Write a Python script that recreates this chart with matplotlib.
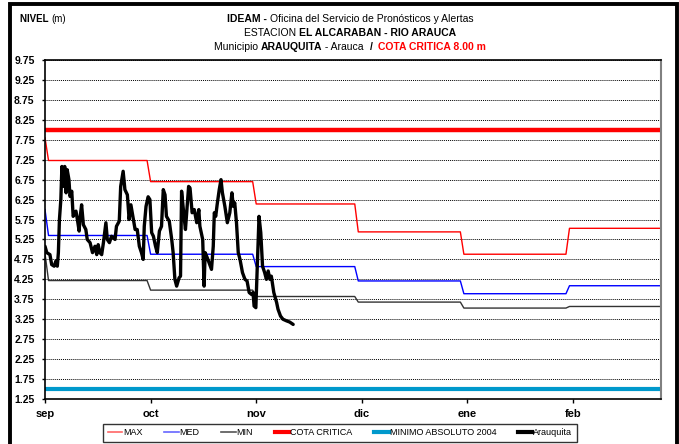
import numpy as np
import matplotlib
matplotlib.use('Agg')
import matplotlib.pyplot as plt
from matplotlib.patches import Rectangle
from matplotlib.lines import Line2D

plt.rcParams['font.family'] = ['Liberation Sans Narrow', 'Liberation Sans', 'DejaVu Sans']

# Ejes: dias desde el 1 de septiembre
meses = ['sep', 'oct', 'nov', 'dic', 'ene', 'feb']
dias_ticks = [0, 30, 60, 90, 120, 150]
inicio_mes = [1, 30, 60, 89, 119, 149]   # dia donde cambia el valor mensual
dia_final = 175

# Valores mensuales (primer valor = fin de agosto)
nivel_max = [7.80, 7.23, 6.70, 6.14, 5.44, 4.88, 5.53]
nivel_med = [6.00, 5.35, 4.88, 4.57, 4.21, 3.89, 4.09]
nivel_min = [4.90, 4.22, 3.98, 3.82, 3.68, 3.53, 3.57]
cota_critica = 8.0
minimo_absoluto = 1.5

# Serie observada Arauquita
dias_obs = [0, 0.5, 1.4, 1.9, 2.6, 3.1, 3.5, 3.8, 4.1, 4.5,
            4.8, 5.2, 5.6, 6.0, 6.3, 6.8, 7.1, 7.6, 8.0, 8.8,
            9.2, 9.7, 9.9, 10.4, 10.9, 11.6, 12.0, 12.8, 13.5, 14.2,
            14.7, 15.1, 15.6, 16.1, 16.6, 17.3, 17.7, 18.3, 18.9, 19.9,
            20.3, 21.1, 21.5, 22.2, 22.7, 23.4, 23.9, 24.4, 25.1, 25.6,
            26.2, 26.8, 27.4, 27.9, 28.2, 28.7, 29.3, 29.8, 30.3, 30.8,
            31.4, 31.9, 32.5, 33.1, 33.6, 34.1, 34.5, 35.3, 36.0, 36.4,
            36.9, 37.4, 38.1, 38.5, 38.8, 39.5, 39.9, 40.4, 40.8, 41.2,
            41.8, 42.4, 43.1, 43.7, 44.0, 44.8, 45.2, 45.5, 46.1, 46.6,
            47.3, 47.8, 48.1, 48.5, 48.9, 49.5, 50.0, 50.4, 51.1, 51.8,
            52.5, 53.1, 53.5, 53.9, 54.4, 54.9, 55.4, 56.1, 56.8, 57.4,
            58.0, 58.7, 59.1, 59.4, 59.9, 60.3, 60.8, 61.3, 61.8, 62.4,
            62.9, 63.4, 63.9, 64.3, 65.0, 65.8, 66.2, 66.9, 67.6, 68.6,
            69.5, 70.5]
nivel_obs = [5.08, 4.92, 4.87, 4.62, 4.58, 4.71, 4.58, 4.92, 5.75, 6.25,
             7.08, 6.58, 7.08, 6.42, 7.0, 6.75, 6.33, 6.46, 5.83, 5.96,
             5.75, 5.46, 5.75, 6.12, 5.62, 5.5, 5.25, 5.17, 4.92, 5.08,
             4.87, 5.12, 4.92, 4.87, 5.17, 5.67, 5.25, 5.17, 5.33, 5.25,
             5.58, 5.71, 6.58, 6.96, 6.5, 6.37, 5.75, 6.12, 5.75, 5.5,
             5.5, 5.08, 4.92, 4.75, 5.58, 6.08, 6.32, 6.25, 5.42, 5.33,
             5.08, 4.92, 5.46, 5.58, 6.5, 6.37, 5.83, 5.71, 5.25, 4.92,
             4.25, 4.08, 4.29, 4.33, 6.46, 5.83, 5.5, 6.08, 6.58, 6.54,
             5.92, 6.0, 5.67, 6.0, 5.58, 5.25, 4.08, 4.92, 4.79, 4.67,
             4.5, 5.08, 5.92, 5.83, 6.12, 6.5, 6.75, 6.42, 6.08, 5.67,
             5.92, 6.42, 6.08, 6.17, 5.67, 4.92, 4.75, 4.42, 4.25, 4.21,
             3.92, 3.87, 3.92, 3.58, 3.54, 4.58, 5.83, 5.42, 4.58, 4.42,
             4.25, 4.46, 4.25, 4.33, 3.92, 3.67, 3.5, 3.33, 3.25, 3.21,
             3.18, 3.12]


def escalones(valores):
    # linea mensual: cambia de valor entre el ultimo dia de un mes y el primero del siguiente
    xs, ys = [0], [valores[0]]
    limites = inicio_mes + [dia_final + 1]
    for i, v in enumerate(valores[1:]):
        xs += [limites[i], limites[i + 1] - 1]
        ys += [v, v]
    return xs, ys


W, H = 679, 444
fig = plt.figure(figsize=(W / 100, H / 100), dpi=100)
ax = fig.add_axes([45 / W, 45 / H, 616 / W, 339 / H])

x, y = escalones(nivel_max)
ax.plot(x, y, color='#ff0000', lw=1.0, label='MAX')
x, y = escalones(nivel_med)
ax.plot(x, y, color='#0000ff', lw=1.0, label='MED')
x, y = escalones(nivel_min)
ax.plot(x, y, color='#333333', lw=1.0, label='MIN')
ax.axhline(cota_critica, color='#ff0000', lw=3.2, label='COTA CRITICA')
ax.axhline(minimo_absoluto, color='#0099cc', lw=3.0, label='MINIMO ABSOLUTO 2004')
ax.plot(dias_obs, nivel_obs, color='black', lw=2.4, solid_joinstyle='round',
        solid_capstyle='round', label='Arauquita')

ax.set_xlim(0, dia_final)
ax.set_ylim(1.25, 9.75)
ax.set_yticks(np.arange(1.25, 9.76, 0.5))
ax.set_yticklabels(['%.2f' % v for v in np.arange(1.25, 9.76, 0.5)],
                   fontsize=7.5, fontweight='bold')
ax.set_xticks(dias_ticks)
ax.set_xticklabels(meses, fontsize=8, fontweight='bold')
ax.tick_params(axis='y', length=2.5, width=1, pad=5)
ax.tick_params(axis='x', length=3, width=1, pad=4)
ax.yaxis.grid(True, ls=(0, (1, 1)), color='black', lw=0.7)
ax.set_axisbelow(True)
for s in ['left', 'bottom', 'top']:
    ax.spines[s].set_linewidth(1.2)
ax.spines['right'].set_color('#808080')
ax.spines['right'].set_linewidth(1.5)

# marco exterior
fig.patches.append(Rectangle((10 / W, -0.05), 667 / W, 1.05 - 4 / H, transform=fig.transFigure,
                             fill=False, edgecolor='black', lw=2.8, clip_on=False))

# leyenda
handles = [Line2D([], [], color='#ff6666', lw=1.2),
           Line2D([], [], color='#6666ff', lw=1.2),
           Line2D([], [], color='#555555', lw=1.2),
           Line2D([], [], color='#ff0000', lw=3),
           Line2D([], [], color='#0099cc', lw=3),
           Line2D([], [], color='black', lw=3)]
labels = ['MAX', 'MED', 'MIN', 'COTA CRITICA', 'MINIMO ABSOLUTO 2004', 'Arauquita']
leg = fig.legend(handles, labels, loc='upper center', bbox_to_anchor=(340 / W, 1 - 419 / H),
                 ncol=6, fontsize=6.5, frameon=True, fancybox=False, edgecolor='black',
                 handlelength=1.6, handletextpad=0.1, columnspacing=2.4, borderpad=0.5)
leg.get_frame().set_linewidth(1.0)

# titulos con partes en negrita
lineas = [
    [('IDEAM - ', 'bold', 'black'), ('Oficina del Servicio de Pronósticos y Alertas', 'normal', 'black')],
    [('ESTACION ', 'normal', 'black'), ('EL ALCARABAN - RIO ARAUCA', 'bold', 'black')],
    [('Municipio ', 'normal', 'black'), ('ARAUQUITA', 'bold', 'black'), (' - Arauca  ', 'normal', 'black'),
     ('/  ', 'bold', 'black'), ('COTA CRITICA 8.00 m', 'bold', '#ff0000')],
]
y_lineas = [19, 33, 47]
fig.canvas.draw()
renderer = fig.canvas.get_renderer()
for partes, yp in zip(lineas, y_lineas):
    textos = [fig.text(0, 1 - yp / H, t, fontsize=7.5, fontweight=w, color=c, va='center', ha='left')
              for t, w, c in partes]
    anchos = [t.get_window_extent(renderer).width for t in textos]
    x0 = 350 - sum(anchos) / 2
    for t, a in zip(textos, anchos):
        t.set_x(x0 / W)
        x0 += a

t_nivel = fig.text(20 / W, 1 - 19 / H, 'NIVEL ', fontsize=7, fontweight='bold', va='center')
ancho_nivel = t_nivel.get_window_extent(renderer).width
fig.text((20 + ancho_nivel) / W, 1 - 19 / H, '(m)', fontsize=7, va='center')

fig.savefig('out.png', dpi=100)
